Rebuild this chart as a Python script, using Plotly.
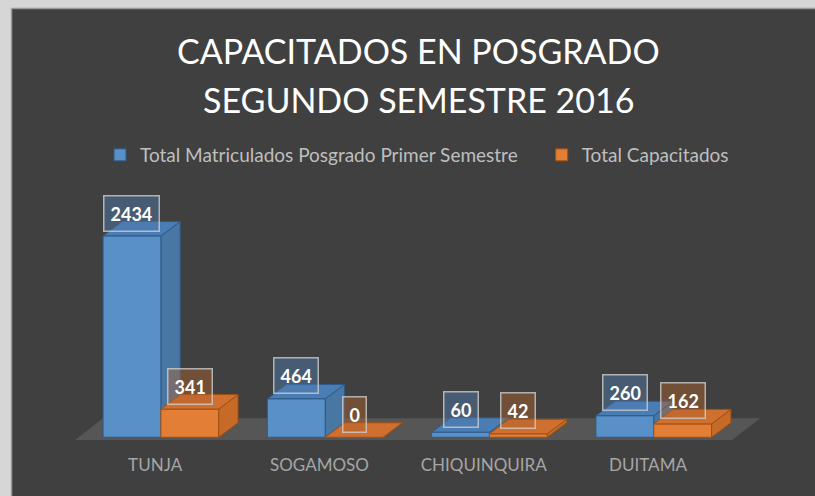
import plotly.graph_objects as go

categories = ["TUNJA", "SOGAMOSO", "CHIQUINQUIRA", "DUITAMA"]
matriculados = [2434, 464, 60, 260]
capacitados = [341, 0, 42, 162]
series_names = ["Total Matriculados Posgrado Primer Semestre", "Total Capacitados"]
title_lines = ["CAPACITADOS EN POSGRADO", "SEGUNDO SEMESTRE 2016"]

W, H = 815, 496
ML, MR, MT, MB = 73, 52, 181, 55
PW, PH = W - ML - MR, H - MT - MB
XR = [-0.5, 3.7]
YR = [-45, 3100]
xu = PW / (XR[1] - XR[0])      # px per category unit
yu = PH / (YR[1] - YR[0])      # px per value unit

FONT = "Lato, 'Open Sans', sans-serif"
BG = "#404040"

bar_w = 0.352
offsets = [-0.317, 0.035]
depth_dx = 19.3 / xu
depth_dy = 14.5 / yu

styles = [
    dict(front="#5890c7", top="#4a7db3", side="#4877a4", edge="#2e5a88",
         lab="rgba(80,125,175,0.45)"),
    dict(front="#e27e35", top="#d07030", side="#c66a28", edge="#a0500f",
         lab="rgba(175,98,45,0.45)"),
]

def px_x(px):
    return (px - ML) / PW

def px_y(py):
    return (MT + PH - py) / PH

fig = go.Figure()
shapes = []

# frame of the picture (light page around the dark chart)
shapes.append(dict(type="rect", xref="paper", yref="paper", layer="below",
                   x0=px_x(0), x1=px_x(W), y0=px_y(0), y1=px_y(9),
                   fillcolor="#d6d6d6", line_width=0))
shapes.append(dict(type="rect", xref="paper", yref="paper", layer="below",
                   x0=px_x(0), x1=px_x(12), y0=px_y(H), y1=px_y(0),
                   fillcolor="#d6d6d6", line_width=0))
shapes.append(dict(type="line", xref="paper", yref="paper", layer="below",
                   x0=px_x(11.5), x1=px_x(W), y0=px_y(8.5), y1=px_y(8.5),
                   line=dict(color="#9a9a9a", width=1.5)))
shapes.append(dict(type="line", xref="paper", yref="paper", layer="below",
                   x0=px_x(11.5), x1=px_x(11.5), y0=px_y(H), y1=px_y(8.5),
                   line=dict(color="#9a9a9a", width=1.5)))

# floor of the 3D chart
n = len(categories)
fx0, fx1 = -0.5 + 2 / xu, n - 0.5 + 2 / xu
fy0 = -2.7 / yu
fdx, fdy = 28 / xu, 21.7 / yu
shapes.append(dict(type="path", xref="x", yref="y", layer="below",
                   path=f"M {fx0},{fy0} L {fx1},{fy0} L {fx1+fdx},{fy0+fdy} L {fx0+fdx},{fy0+fdy} Z",
                   fillcolor="#565656", line_width=0))

series = [matriculados, capacitados]
legend_pad = ["\u2002\u2002", ""]
annotations = []
for s, (vals, name, st) in enumerate(zip(series, series_names, styles)):
    fig.add_trace(go.Bar(
        x=list(range(n)), y=vals, name=name + legend_pad[s], width=bar_w, offset=offsets[s],
        marker=dict(color=st["front"], line=dict(color=st["edge"], width=1)),
        hoverinfo="skip",
    ))
    for i, v in enumerate(vals):
        x0 = i + offsets[s]
        x1 = x0 + bar_w
        layer = "below" if s == 0 else "above"
        shapes.append(dict(type="path", xref="x", yref="y", layer=layer,
                           path=f"M {x1},0 L {x1+depth_dx},{depth_dy} L {x1+depth_dx},{v+depth_dy} L {x1},{v} Z",
                           fillcolor=st["side"], line=dict(color=st["edge"], width=1)))
        shapes.append(dict(type="path", xref="x", yref="y", layer=layer,
                           path=f"M {x0},{v} L {x1},{v} L {x1+depth_dx},{v+depth_dy} L {x0+depth_dx},{v+depth_dy} Z",
                           fillcolor=st["top"], line=dict(color=st["edge"], width=1)))
        annotations.append(dict(
            x=x0 + bar_w / 2, y=v, xref="x", yref="y", yshift=23,
            text=f"<b>{v}</b>", showarrow=False, xanchor="center", yanchor="middle",
            font=dict(family=FONT, size=18, color="white"),
            bgcolor=st["lab"], bordercolor="rgba(205,205,205,0.8)", borderwidth=1.5,
            borderpad=6,
        ))

# title lines
for k, (line, py) in enumerate(zip(title_lines, [50, 99])):
    annotations.append(dict(
        x=(418.5 - ML) / PW, y=px_y(py), xref="paper", yref="paper",
        text=line, showarrow=False, xanchor="center", yanchor="middle",
        font=dict(family=FONT, size=34, color="white"),
    ))

fig.update_layout(
    width=W, height=H,
    margin=dict(l=ML, r=MR, t=MT, b=MB, pad=0),
    paper_bgcolor=BG, plot_bgcolor=BG,
    barmode="overlay",
    showlegend=True,
    legend=dict(orientation="h", x=(417 - ML) / PW, xanchor="center",
                y=px_y(155), yanchor="middle",
                font=dict(family=FONT, size=19, color="#bfbfbf"),
                bgcolor="rgba(0,0,0,0)", itemclick=False, itemdoubleclick=False),
    xaxis=dict(range=XR, tickmode="array", tickvals=list(range(n)), ticktext=categories,
               showgrid=False, zeroline=False, showline=False, ticks="",
               tickfont=dict(family=FONT, size=17, color="#a6a6a6"),
               ticklabelstandoff=12, fixedrange=True),
    yaxis=dict(range=YR, visible=False, showgrid=False, zeroline=False, fixedrange=True),
    shapes=shapes,
    annotations=annotations,
)

fig.write_html("out.html", config={"displayModeBar": False},
               post_script="document.body.style.margin='0';document.body.style.overflow='hidden';")
